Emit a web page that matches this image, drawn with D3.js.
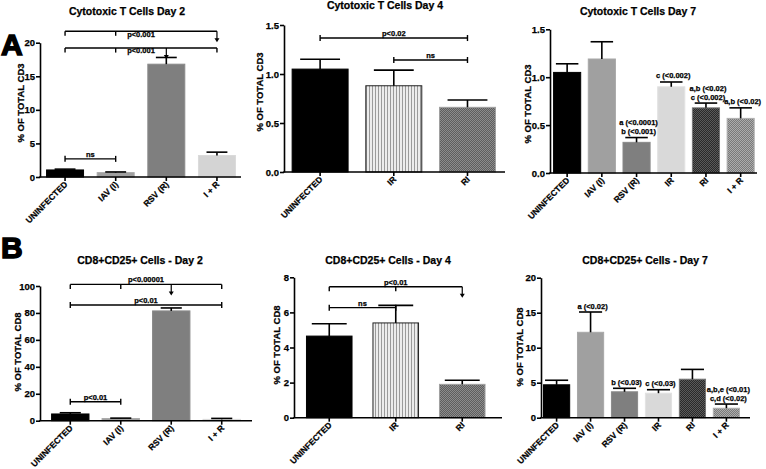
<!DOCTYPE html>
<html><head><meta charset="utf-8">
<script src="https://cdn.jsdelivr.net/npm/d3@7"></script>
<style>
body{margin:0;background:#fff}
text{font-family:"Liberation Sans",Arial,sans-serif;font-weight:bold;fill:#000;stroke:#000;stroke-width:0.25px}
</style>
</head><body>
<svg id="c" width="766" height="469"></svg>
<script>
// ---------- DATA ----------
// Panel A, day 2
const a2Categories = ["UNINFECTED", "IAV (I)", "RSV (R)", "I + R"];
const a2Means = [1.05, 0.65, 16.8, 3.2];
const a2Sems = [0.12, 0.1, 1.0, 0.5];
const a2Ticks = [0, 5, 10, 15, 20];
const a2Brackets = [
  {from: 0, to: 3, y: 21.7, label: "p<0.001", style: "drop", drops: [0, 1], arrow: 3, dy: 6},
  {from: 0, to: 3, y: 19.2, label: "p<0.001", style: "drop", drops: [0, 1, 3], arrow: 2, dy: 5},
  {from: 0, to: 1, y: 2.7, label: "ns", style: "cap", dy: -2}
];
// Panel A, day 4
const a4Categories = ["UNINFECTED", "IR", "RI"];
const a4Means = [1.05, 0.88, 0.66];
const a4Sems = [0.1, 0.16, 0.075];
const a4Ticks = [0, 0.5, 1.0, 1.5];
const a4Brackets = [
  {from: 0, to: 2, y: 1.367, label: "p<0.02", style: "cap", dy: -2},
  {from: 1, to: 2, y: 1.143, label: "ns", style: "cap", dy: -2}
];
// Panel A, day 7
const a7Categories = ["UNINFECTED", "IAV (I)", "RSV (R)", "IR", "RI", "I + R"];
const a7Means = [1.05, 1.19, 0.32, 0.90, 0.68, 0.57];
const a7Sems = [0.09, 0.18, 0.05, 0.05, 0.05, 0.11];
const a7Ticks = [0, 0.5, 1.0, 1.5];
const a7Notes = [
  {cat: "RSV (R)", lines: ["a (<0.0001)", "b (<0.001)"]},
  {cat: "IR", lines: ["c (<0.002)"]},
  {cat: "RI", lines: ["a,b (<0.02)", "c (<0.002)"]},
  {cat: "I + R", lines: ["a,b (<0.02)"]}
];
// Panel B, day 2
const b2Categories = ["UNINFECTED", "IAV (I)", "RSV (R)", "I + R"];
const b2Means = [5.0, 1.6, 81.5, 1.0];
const b2Sems = [0.9, 0.3, 2.2, 0.7];
const b2Ticks = [0, 20, 40, 60, 80, 100];
const b2Brackets = [
  {from: 0, to: 3, y: 101.2, label: "p<0.00001", style: "drop", drops: [0, 1, 3], arrow: 2, dy: -2},
  {from: 0, to: 3, y: 85.9, label: "p<0.01", style: "cap", dy: -2},
  {from: 0, to: 1, y: 14.1, label: "p<0.01", style: "cap", dy: -2}
];
// Panel B, day 4
const b4Categories = ["UNINFECTED", "IR", "RI"];
const b4Means = [4.65, 5.4, 1.9];
const b4Sems = [0.7, 1.0, 0.23];
const b4Ticks = [0, 2, 4, 6, 8];
const b4Brackets = [
  {from: 0, to: 2, y: 7.46, label: "p<0.01", style: "drop", drops: [0, 1], arrow: 2, dy: -2},
  {from: 0, to: 1, y: 6.27, label: "ns", style: "cap", dy: -2}
];
// Panel B, day 7
const b7Categories = ["UNINFECTED", "IAV (I)", "RSV (R)", "IR", "RI", "I + R"];
const b7Means = [4.7, 12.2, 3.7, 3.5, 5.5, 1.35];
const b7Sems = [0.65, 2.9, 0.5, 0.5, 1.4, 0.6];
const b7Ticks = [0, 5, 10, 15, 20];
const b7Notes = [
  {cat: "IAV (I)", lines: ["a (<0.02)"]},
  {cat: "RSV (R)", lines: ["b (<0.03)"]},
  {cat: "IR", lines: ["c (<0.03)"]},
  {cat: "I + R", lines: ["a,b,e (<0.01)", "c,d (<0.02)"]}
];

// ---------- DRAWING ----------
const svg = d3.select("#c");
const defs = svg.append("defs");

function checker(id, c1, c2) {
  const p = defs.append("pattern").attr("id", id).attr("patternUnits", "userSpaceOnUse")
    .attr("width", 2).attr("height", 2);
  p.append("rect").attr("width", 2).attr("height", 2).attr("fill", c1);
  p.append("rect").attr("width", 1).attr("height", 1).attr("fill", c2);
  p.append("rect").attr("x", 1).attr("y", 1).attr("width", 1).attr("height", 1).attr("fill", c2);
}
checker("hatchMid", "#5e5e5e", "#8c8c8c");
checker("hatchDark", "#2a2a2a", "#5a5a5a");
checker("hatchLight", "#7a7a7a", "#acacac");
{
  const p = defs.append("pattern").attr("id", "vstripe").attr("patternUnits", "userSpaceOnUse")
    .attr("width", 3).attr("height", 3);
  p.append("rect").attr("width", 3).attr("height", 3).attr("fill", "#ececec");
  p.append("rect").attr("width", 1).attr("height", 3).attr("fill", "#9a9a9a");
}

const fillMap = {
  "UNINFECTED": ["#000", "#000"],
  "IAV (I)": ["#a0a0a0", "#a8a8a8"],
  "RSV (R)": ["#7f7f7f", "#8a8a8a"],
  "I + R": ["#d4d4d4", "#dadada"],
  "IR": ["url(#vstripe)", "#222"],
  "RI": ["url(#hatchMid)", "#a0a0a0"]
};
const fillMapD7 = {
  "IR": ["#d9d9d9", "#e2e2e2"],
  "RI": ["url(#hatchDark)", "#777"],
  "I + R": ["url(#hatchLight)", "#b0b0b0"]
};

function drawPanel(p) {
  const g = svg.append("g");
  const x = d3.scaleBand().domain(p.cats).range(p.xRange).paddingInner(p.pi).paddingOuter(p.po);
  const y = d3.scaleLinear().domain([0, p.max]).range(p.yRange);
  const sw = 1.6;
  const look = c => (p.day7 && fillMapD7[c]) ? fillMapD7[c] : fillMap[c];

  // bars
  g.selectAll("rect.bar").data(p.cats).join("rect").attr("class", "bar")
    .attr("x", d => x(d) + 0.5).attr("width", x.bandwidth() - 1)
    .attr("y", (d, i) => y(p.means[i])).attr("height", (d, i) => y(0) - y(p.means[i]))
    .attr("fill", d => look(d)[0]).attr("stroke", d => look(d)[1]).attr("stroke-width", 1);

  // error bars
  const capW = x.bandwidth() * p.capFrac;
  p.cats.forEach((c, i) => {
    const cx = x(c) + x.bandwidth() / 2;
    const top = y(p.means[i] + p.sems[i]);
    g.append("line").attr("x1", cx).attr("x2", cx).attr("y1", y(p.means[i])).attr("y2", top)
      .attr("stroke", "#000").attr("stroke-width", sw);
    g.append("line").attr("x1", cx - capW / 2).attr("x2", cx + capW / 2).attr("y1", top).attr("y2", top)
      .attr("stroke", "#000").attr("stroke-width", sw);
  });

  // y axis
  const ya = g.append("g").attr("transform", `translate(${p.axisX},0)`)
    .call(d3.axisLeft(y).tickValues(p.ticks).tickFormat(p.fmt).tickSize(4).tickSizeOuter(0));
  ya.select(".domain").attr("stroke-width", sw);
  ya.selectAll(".tick line").attr("stroke-width", sw);
  ya.selectAll(".tick text").attr("font-size", 9.5).attr("x", -5).attr("font-family", null);

  // x axis
  const xa = g.append("g").attr("transform", `translate(0,${y(0)})`)
    .call(d3.axisBottom(x).tickSize(4).tickSizeOuter(0).tickFormat(""));
  xa.select(".domain").remove();
  xa.selectAll(".tick line").attr("stroke-width", sw);
  g.append("line").attr("x1", p.axisX - sw / 2).attr("x2", p.xEnd).attr("y1", y(0)).attr("y2", y(0))
    .attr("stroke", "#000").attr("stroke-width", sw);

  // x labels
  g.selectAll("text.xl").data(p.cats).join("text").attr("class", "xl")
    .attr("transform", d => `translate(${x(d) + x.bandwidth() / 2 + 3},${y(0) + 8}) rotate(-45)`)
    .attr("text-anchor", "end").attr("font-size", 8.5).text(d => d);

  // y label
  g.append("text").attr("transform", `translate(${p.yLabelX},${p.yLabelY}) rotate(-90)`)
    .attr("text-anchor", "middle").attr("dominant-baseline", "middle")
    .attr("font-size", 9.5).text(p.yLabel);

  // title
  g.append("text").attr("x", p.titleX).attr("y", p.titleY).attr("text-anchor", "middle")
    .attr("font-size", 10.5).text(p.title);

  // brackets
  const cxOf = i => x(p.cats[i]) + x.bandwidth() / 2;
  (p.brackets || []).forEach(b => {
    const by = y(b.y), x1 = cxOf(b.from), x2 = cxOf(b.to);
    g.append("line").attr("x1", x1).attr("x2", x2).attr("y1", by).attr("y2", by)
      .attr("stroke", "#000").attr("stroke-width", 1.4);
    if (b.style === "cap") {
      [x1, x2].forEach(xx => g.append("line").attr("x1", xx).attr("x2", xx)
        .attr("y1", by - 3).attr("y2", by + 3).attr("stroke", "#000").attr("stroke-width", 1.4));
    } else {
      b.drops.forEach(di => g.append("line").attr("x1", cxOf(di)).attr("x2", cxOf(di))
        .attr("y1", by).attr("y2", by + 4.5).attr("stroke", "#000").attr("stroke-width", 1.4));
      const ax = cxOf(b.arrow);
      g.append("line").attr("x1", ax).attr("x2", ax).attr("y1", by).attr("y2", by + 8)
        .attr("stroke", "#000").attr("stroke-width", 1.2);
      g.append("path").attr("d", `M${ax - 2.5},${by + 7}L${ax + 2.5},${by + 7}L${ax},${by + 11}Z`)
        .attr("fill", "#000");
    }
    g.append("text").attr("x", (x1 + x2) / 2).attr("y", by + b.dy).attr("text-anchor", "middle")
      .attr("font-size", 7.5).text(b.label);
  });

  // notes
  (p.notes || []).forEach(n => {
    const i = p.cats.indexOf(n.cat);
    const cx = x(n.cat) + x.bandwidth() / 2 + 2;
    const base = y(p.means[i] + p.sems[i]) - 3.5;
    n.lines.forEach((ln, k) => {
      g.append("text").attr("x", cx).attr("y", base - (n.lines.length - 1 - k) * 8.7)
        .attr("text-anchor", "middle").attr("font-size", 7.5).text(ln);
    });
  });
}

const f0 = d3.format("d"), f1 = d3.format(".1f");
drawPanel({cats: a2Categories, means: a2Means, sems: a2Sems, ticks: a2Ticks, max: 20, fmt: f0,
  axisX: 40, xRange: [41, 241], xEnd: 241, yRange: [177, 42.7], pi: 0.25, po: 0.1, capFrac: 0.55,
  title: "Cytotoxic T Cells Day 2", titleX: 127, titleY: 15,
  yLabel: "% OF TOTAL CD3", yLabelX: 21, yLabelY: 103, brackets: a2Brackets});
drawPanel({cats: a4Categories, means: a4Means, sems: a4Sems, ticks: a4Ticks, max: 1.5, fmt: f1,
  axisX: 284, xRange: [285, 502.6], xEnd: 505, yRange: [172, 25], pi: 0.227, po: 0.09, capFrac: 0.7,
  title: "Cytotoxic T Cells Day 4", titleX: 385, titleY: 9,
  yLabel: "% OF TOTAL CD3", yLabelX: 260, yLabelY: 92, brackets: a4Brackets});
drawPanel({cats: a7Categories, means: a7Means, sems: a7Sems, ticks: a7Ticks, max: 1.5, fmt: f1,
  axisX: 550, xRange: [551, 756.8], xEnd: 757, yRange: [173, 29.3], pi: 0.19, po: 0.06, capFrac: 0.8,
  title: "Cytotoxic T Cells Day 7", titleX: 638, titleY: 15, day7: true,
  yLabel: "% OF TOTAL CD3", yLabelX: 528, yLabelY: 104, notes: a7Notes});
drawPanel({cats: b2Categories, means: b2Means, sems: b2Sems, ticks: b2Ticks, max: 100, fmt: f0,
  axisX: 40, xRange: [41, 251], xEnd: 252, yRange: [420.7, 286], pi: 0.24, po: 0.2, capFrac: 0.55,
  title: "CD8+CD25+ Cells - Day 2", titleX: 140, titleY: 263.5,
  yLabel: "% OF TOTAL CD8", yLabelX: 18.5, yLabelY: 352, brackets: b2Brackets});
drawPanel({cats: b4Categories, means: b4Means, sems: b4Sems, ticks: b4Ticks, max: 8, fmt: f0,
  axisX: 294, xRange: [295, 496.5], xEnd: 502, yRange: [417.7, 277.3], pi: 0.3, po: 0.165, capFrac: 0.75,
  title: "CD8+CD25+ Cells - Day 4", titleX: 388, titleY: 263.5,
  yLabel: "% OF TOTAL CD8", yLabelX: 277, yLabelY: 345, brackets: b4Brackets});
drawPanel({cats: b7Categories, means: b7Means, sems: b7Sems, ticks: b7Ticks, max: 20, fmt: f0,
  axisX: 541, xRange: [542, 741], xEnd: 750, yRange: [417.7, 277.7], pi: 0.2, po: 0.03, capFrac: 0.85,
  title: "CD8+CD25+ Cells - Day 7", titleX: 645, titleY: 263.5, day7: true,
  yLabel: "% OF TOTAL CD8", yLabelX: 520, yLabelY: 347, notes: b7Notes});

// panel letters
svg.append("text").attr("x", 1).attr("y", 55).attr("font-size", 30).style("stroke-width", "1.5px").text("A");
svg.append("text").attr("x", 1).attr("y", 258).attr("font-size", 30).style("stroke-width", "1.5px").text("B");
</script>
</body></html>
